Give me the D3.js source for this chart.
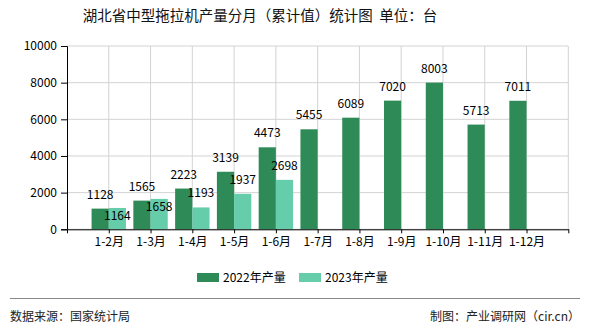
<!DOCTYPE html>
<html><head><meta charset="utf-8">
<script src="https://cdn.jsdelivr.net/npm/d3@7"></script>
<style>
body{margin:0;background:#fff;}
svg{display:block;font-family:"SimSun","Noto Sans CJK SC",sans-serif;}
</style></head>
<body><svg id="c" width="590" height="330"></svg>
<script>
const categories = ["1-2月","1-3月","1-4月","1-5月","1-6月","1-7月","1-8月","1-9月","1-10月","1-11月","1-12月"];
const values2022 = [1128,1565,2223,3139,4473,5455,6089,7020,8003,5713,7011];
const values2023 = [1164,1658,1193,1937,2698,null,null,null,null,null,null];
const seriesNames = ["2022年产量","2023年产量"];
const yTicks = [0,2000,4000,6000,8000,10000];
const colors = ["#2e8b57","#66cdaa"];

(function(){
const svg = d3.select("#c");
const pLeft = 67, pRight = 568.3, pTop = 46, pBottom = 229.3;
const x = d3.scaleLinear().domain([0, categories.length + 1]).range([pLeft, pRight]);
const y = d3.scaleLinear().domain([0, 10000]).range([pBottom, pTop]);
const barW = 17.2;

// title
svg.append("text").attr("x", 260).attr("y", 21).attr("text-anchor","middle")
  .attr("font-size", 14.5).attr("fill","#111").style("white-space","pre")
  .text("湖北省中型拖拉机产量分月（累计值）统计图  单位：台");

// grid
const g = svg.append("g");
g.selectAll(".hg").data(yTicks).join("line")
  .attr("x1", pLeft).attr("x2", pRight).attr("y1", d=>y(d)).attr("y2", d=>y(d))
  .attr("stroke","#d3d3d3").attr("stroke-width",1);
const vgrid = d3.range(1, categories.length + 2);
g.selectAll(".vg").data(vgrid).join("line")
  .attr("x1", d=>x(d)).attr("x2", d=>x(d)).attr("y1", pTop).attr("y2", pBottom)
  .attr("stroke","#d3d3d3").attr("stroke-width",1);

// bars
const series = [values2022, values2023];
series.forEach((vals, si) => {
  svg.append("g").selectAll("rect").data(vals.map((v,i)=>({v,i})).filter(d=>d.v!=null)).join("rect")
    .attr("x", d => si===0 ? x(d.i+1) - barW : x(d.i+1))
    .attr("width", barW)
    .attr("y", d => y(d.v))
    .attr("height", d => pBottom - y(d.v))
    .attr("fill", colors[si]);
});

// axes
const yAxis = d3.axisLeft(y).tickValues(yTicks).tickSize(6).tickPadding(4).tickFormat(d3.format("d"));
const ya = svg.append("g").attr("transform", `translate(${pLeft},0)`).call(yAxis);
ya.select(".domain").attr("stroke","#000");
ya.selectAll(".tick line").attr("stroke","#000");
ya.selectAll(".tick text").attr("font-size",12).attr("fill","#000").attr("font-family","SimSun, Noto Sans CJK SC, sans-serif");

const xAxis = d3.axisBottom(x).tickValues(d3.range(0, categories.length + 2)).tickSize(4).tickSizeOuter(0).tickPadding(4)
  .tickFormat(d => (d>=1 && d<=categories.length) ? categories[d-1] : "");
const xa = svg.append("g").attr("transform", `translate(0,${pBottom})`).call(xAxis);
xa.select(".domain").attr("stroke","#000");
xa.selectAll(".tick line").attr("stroke","#000");
xa.selectAll(".tick text").attr("font-size",12).attr("fill","#000").attr("font-family","SimSun, Noto Sans CJK SC, sans-serif");

// labels
const lab = svg.append("g").attr("font-size",12).attr("fill","#000").attr("text-anchor","middle");
const boxes2022 = [];
values2022.forEach((v,i)=>{
  if (v==null) return;
  const cx = x(i+1) - barW/2, by = y(v) - 9;
  const t = lab.append("text").attr("x", cx).attr("y", by - 1).text(v);
  boxes2022[i] = t.node().getBBox();
});
values2023.forEach((v,i)=>{
  if (v==null) return;
  const cx = x(i+1) + barW/2;
  let t = lab.append("text").attr("x", cx).attr("y", y(v) - 10).text(v);
  const b = t.node().getBBox(), o = boxes2022[i];
  if (o && b.x < o.x + o.width && o.x < b.x + b.width && b.y < o.y + o.height && o.y < b.y + b.height) {
    t.attr("y", y(v) + 12);
  }
});

// legend
const leg = svg.append("g");
const legX = [197, 299];
seriesNames.forEach((n,i)=>{
  leg.append("rect").attr("x", legX[i]).attr("y", 273).attr("width", 22).attr("height", 9).attr("fill", colors[i]);
  leg.append("text").attr("x", legX[i] + 26).attr("y", 282).attr("font-size", 12).attr("fill","#000").text(n);
});

// footer
svg.append("line").attr("x1",10).attr("x2",580).attr("y1",298.5).attr("y2",298.5).attr("stroke","#888").attr("stroke-width",1);
svg.append("text").attr("x",10).attr("y",321).attr("font-size",12).attr("fill","#222").text("数据来源：国家统计局");
svg.append("text").attr("x",580).attr("y",321).attr("font-size",12).attr("fill","#222").attr("text-anchor","end").text("制图：产业调研网（cir.cn）");
})();
</script></body></html>
